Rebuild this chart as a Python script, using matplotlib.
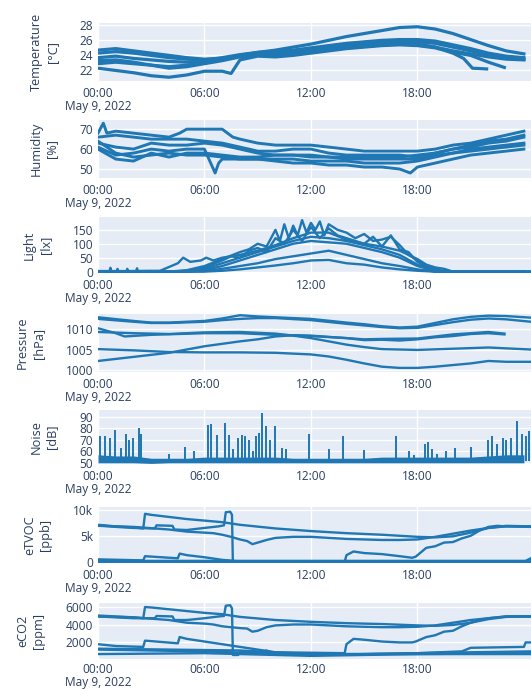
import matplotlib
matplotlib.use("Agg")
import matplotlib.pyplot as plt

plt.rcParams['font.family'] = ['Open Sans', 'DejaVu Sans']

BG = '#E5ECF6'
LINE = '#1f77b4'
TEXT = '#2a3f5f'

# x axis (hours after 00:00, May 9 2022)
HOURS = [0, 1, 2, 3, 4, 5, 6, 7, 8, 9, 10, 11, 12, 13, 14, 15, 16, 17, 18, 19, 20, 21, 22, 23, 24]
x_ticks = [0, 6, 12, 18]
x_labels = ['00:00\nMay 9, 2022', '06:00', '12:00', '18:00']

# ---------------- temperature [°C]
temp_1 = [24.6, 24.8, 24.5, 24.2, 23.9, 23.6, 23.4, 23.5, 23.9, 24.3, 24.6, 25.0, 25.4, 25.9, 26.4, 26.8, 27.2, 27.6, 27.7, 27.4, 26.8, 26.0, 25.2, 24.5, 24.1]
temp_2 = [24.2, 24.4, 24.2, 23.9, 23.6, 23.4, 23.3, 23.6, 24.0, 24.3, 24.4, 24.6, 24.9, 25.2, 25.5, 25.7, 25.9, 26.0, 26.0, 25.8, 25.3, 24.8, 24.2, 23.8, 23.6]
temp_3 = [23.6, 23.8, 23.5, 23.3, 23.1, 23.0, 23.1, 23.4, 23.8, 24.0, 24.1, 24.3, 24.6, 24.9, 25.2, 25.4, 25.6, 25.7, 25.7, 25.5, 25.0, 24.5, 24.0, 23.6, 23.4]
temp_4_t = [0, 1, 2, 3, 4, 5, 6, 7, 8, 9, 10, 11, 12, 13, 14, 15, 16, 17, 18, 19, 20, 20.6, 21.1, 21.9]
temp_4 = [22.8, 23.0, 22.8, 22.6, 22.4, 22.6, 23.0, 23.4, 23.9, 24.0, 23.9, 24.1, 24.4, 24.7, 24.9, 25.1, 25.3, 25.4, 25.4, 25.0, 24.2, 23.5, 22.2, 22.1]
temp_5_t = [0, 1, 2, 3, 4, 5, 6, 7, 7.5, 8, 9, 10, 11, 12, 13, 14, 15, 16, 17, 18, 19, 20, 21, 22, 22.9]
temp_5 = [22.2, 21.9, 21.6, 21.2, 21.0, 21.3, 21.8, 21.8, 21.5, 23.3, 23.8, 23.7, 23.9, 24.2, 24.5, 24.8, 25.0, 25.2, 25.3, 25.2, 24.9, 24.3, 23.9, 23.0, 22.3]
temp_6 = [23.2, 23.3, 23.0, 22.6, 22.2, 22.4, 22.8, 23.2, 23.7, 24.0, 24.0, 24.2, 24.4, 24.6, 24.9, 25.1, 25.3, 25.4, 25.3, 25.0, 24.5, 24.1, 23.7, 23.4, 23.3]

# ---------------- humidity [%]
hum_1_t = [0, 0.3, 0.5, 1, 2, 3, 4, 4.6, 5, 6, 7, 7.6, 8, 9, 10, 11, 12, 13, 14, 15, 16, 17, 18, 19, 20, 21, 22, 23, 24]
hum_1 = [68, 73, 68, 69, 68, 67, 66, 68, 70, 70, 70, 66, 65, 63, 62, 62, 62, 61, 60, 59, 59, 59, 59, 60, 62, 63, 65, 67, 69]
hum_2 = [66, 67, 66, 65, 65, 65, 64, 63, 61, 59, 59, 60, 60, 58, 57, 57, 57, 57, 56, 58, 60, 61, 63, 64, 66]
hum_3 = [63, 61, 60, 63, 62, 62, 63, 62, 60, 58, 57, 57, 56, 56, 55, 55, 55, 55, 55, 57, 58, 60, 61, 62, 63]
hum_4_t = [0, 1, 2, 3, 4, 5, 6, 6.6, 6.8, 7, 8, 9, 10, 11, 12, 13, 14, 15, 16, 17, 18, 19, 20, 21, 22, 23, 24]
hum_4 = [61, 57, 58, 60, 59, 60, 60, 48, 53, 55, 55, 55, 55, 55, 54, 54, 54, 53, 53, 53, 54, 56, 58, 59, 60, 61, 62]
hum_5_t = [0, 1, 2, 3, 4, 5, 6, 7, 8, 9, 10, 11, 12, 13, 14, 15, 16, 17, 17.6, 18, 19, 20, 21, 22, 23, 24]
hum_5 = [64, 58, 56, 57, 58, 57, 57, 56, 55, 55, 54, 53, 53, 52, 52, 51, 51, 50, 48, 51, 53, 55, 57, 58, 59, 60]
hum_6 = [60, 55, 54, 58, 56, 58, 58, 57, 56, 56, 57, 57, 57, 56, 56, 56, 56, 56, 57, 58, 60, 62, 64, 65, 67]

# ---------------- light [lx]
light_1_t = [0, 4, 5, 6, 7, 8, 8.5, 9, 9.5, 10, 10.25, 10.5, 10.75, 11, 11.25, 11.5, 11.75, 12, 12.25, 12.5, 12.75, 13, 13.5, 14, 14.5, 15, 15.5, 16, 16.5, 17, 17.5, 18, 18.5, 19, 24.4]
light_1 = [0, 0, 5, 20, 45, 70, 80, 100, 90, 150, 110, 170, 120, 165, 130, 185, 140, 175, 150, 180, 130, 170, 150, 140, 120, 135, 110, 115, 125, 95, 60, 40, 10, 0, 0]
light_2_t = [0, 4, 5, 6, 7, 7.5, 8, 8.5, 9, 9.5, 10, 10.5, 11, 11.5, 12, 12.5, 13, 13.5, 14, 15, 15.5, 16, 16.5, 17, 17.5, 18, 18.5, 19, 19.5, 24.4]
light_2 = [0, 0, 3, 15, 40, 55, 50, 75, 85, 70, 120, 100, 150, 110, 160, 120, 155, 130, 120, 100, 125, 90, 130, 80, 70, 35, 20, 10, 0, 0]
light_3_t = [0, 3.5, 4.5, 4.8, 5.2, 5.8, 6.1, 6.5, 7, 8, 9, 10, 11, 12, 13, 14, 15, 16, 17, 18, 18.5, 19, 19.5, 20, 24.4]
light_3 = [0, 3, 30, 50, 35, 40, 50, 40, 50, 60, 75, 95, 120, 140, 140, 115, 100, 90, 75, 45, 25, 15, 10, 0, 0]
light_4 = [0, 0, 0, 0, 0, 2, 10, 30, 50, 70, 90, 110, 125, 120, 110, 95, 80, 60, 25, 5, 0, 0, 0, 0, 0]
light_5 = [0, 0, 0, 0, 0, 0, 5, 20, 40, 60, 80, 100, 110, 105, 100, 85, 70, 50, 20, 3, 0, 0, 0, 0, 0]
light_6 = [0, 0, 0, 0, 0, 0, 2, 10, 20, 30, 45, 55, 65, 75, 60, 45, 30, 20, 8, 0, 0, 0, 0, 0, 0]
light_7 = [0, 0, 0, 0, 0, 0, 0, 3, 8, 15, 22, 30, 40, 42, 30, 25, 15, 8, 3, 0, 0, 0, 0, 0, 0]
light_night_t = [0, 0.65, 0.7, 0.75, 1.05, 1.1, 1.15, 1.6, 1.65, 1.7, 2.15, 2.2, 2.25, 3.0]
light_night = [2, 2, 14, 2, 2, 10, 2, 2, 10, 2, 2, 12, 2, 2]

# ---------------- pressure [hPa]
pres_12_t = [0, 2, 3, 4, 6, 7, 8, 9, 10, 12, 14, 15, 16, 17, 18, 19, 20, 21, 22, 23, 24.4]
pres_1 = [1012.9, 1012.0, 1011.6, 1011.6, 1012.0, 1012.6, 1013.4, 1013.1, 1012.9, 1012.5, 1011.6, 1011.2, 1010.7, 1010.4, 1010.6, 1011.5, 1012.4, 1013.0, 1013.3, 1013.2, 1012.8]
pres_2 = [1012.5, 1011.8, 1011.5, 1011.5, 1011.8, 1012.2, 1012.5, 1012.7, 1012.7, 1012.2, 1011.3, 1010.9, 1010.5, 1010.2, 1010.3, 1011.0, 1011.7, 1012.3, 1012.6, 1012.4, 1011.8]
pres_3_t = [0, 1, 1.5, 3, 6, 8, 10, 12, 14, 15, 16, 18, 19, 20, 21, 22, 22.9]
pres_3 = [1010.2, 1009.0, 1008.2, 1008.6, 1009.0, 1009.0, 1008.6, 1008.4, 1007.8, 1007.5, 1007.6, 1007.7, 1008.2, 1008.7, 1009.0, 1009.3, 1008.9]
pres_4_t = [0, 2, 4, 5, 6, 7, 8, 9, 10, 11, 12, 14, 15, 16, 17, 18, 19, 20, 21, 22, 22.9]
pres_4 = [1002.2, 1003.2, 1004.2, 1005.0, 1005.8, 1006.4, 1007.0, 1007.5, 1008.2, 1008.5, 1008.3, 1007.8, 1007.3, 1007.4, 1007.2, 1007.5, 1008.0, 1008.3, 1008.8, 1009.0, 1008.7]
pres_5_t = [0, 2, 4, 6, 8, 10, 11, 12, 13, 14, 15, 16, 18, 20, 22, 24.4]
pres_5 = [1009.3, 1009.0, 1008.8, 1009.2, 1009.3, 1008.9, 1008.4, 1007.8, 1007.0, 1006.2, 1005.6, 1005.1, 1004.9, 1005.2, 1005.5, 1005.0]
pres_6_t = [0, 2, 4, 6, 8, 10, 12, 13, 14, 15, 16, 17, 18, 19, 20, 21, 22, 23, 24.4]
pres_6 = [1005.1, 1004.8, 1004.4, 1004.3, 1004.3, 1004.2, 1003.8, 1003.3, 1002.5, 1001.6, 1000.8, 1000.5, 1000.5, 1000.8, 1001.2, 1001.6, 1002.2, 1002.0, 1002.0]

# ---------------- noise [dB]
noise_low = [50, 50, 50, 49.5, 50, 50, 50, 50, 50, 50, 50, 50, 50, 50, 50, 50, 50, 50, 50, 50, 50, 50, 50, 50, 50]
noise_high = [57, 56, 56, 54, 54, 54, 55, 55, 55, 55, 55, 54, 54, 54, 54, 54, 55, 55, 55, 55, 55, 55, 56, 57, 57]
noise_spike_t = [0.1, 0.4, 0.65, 0.95, 1.3, 1.6, 1.75, 2.0, 2.3, 2.45, 4.0, 4.9, 5.4,
                 6.2, 6.35, 6.7, 7.15, 7.4, 7.6, 7.9, 8.1, 8.3, 8.5, 8.75, 8.9, 9.1, 9.25, 9.45, 9.7, 10.0,
                 10.35, 10.6, 11.9, 13.0, 13.8, 15.0, 16.8, 17.5, 17.8, 18.4, 18.6, 18.8, 19.1, 19.6, 20.1,
                 21.0, 22.0, 22.2, 22.5, 22.8, 23.0, 23.3, 23.6, 23.9, 24.1, 24.3]
noise_spike_v = [73, 73, 72, 79, 63, 75, 70, 72, 80, 75, 58, 64, 60,
                 83, 84, 74, 85, 74, 62, 72, 74, 73, 70, 60, 73, 76, 93, 82, 70, 82,
                 63, 62, 75, 62, 73, 61, 73, 60, 57, 66, 68, 62, 58, 60, 63,
                 64, 70, 73, 66, 72, 70, 72, 86, 75, 73, 78]

# ---------------- eTVOC [ppb]
etvoc_1_t = [0, 1, 2, 2.55, 2.65, 3, 4, 5, 6, 7, 8, 10, 12, 14, 16, 18, 19, 20, 21, 22, 23, 24.4]
etvoc_1 = [7100, 6800, 6600, 6400, 9200, 9000, 8600, 8200, 7900, 7600, 7100, 6400, 5900, 5500, 5200, 4800, 4700, 4900, 5600, 6500, 6900, 6800]
etvoc_2_t = [0, 1, 2, 3.2, 3.3, 4.2, 4.3, 5, 6, 6.8, 7.1, 7.2, 7.45, 7.55, 7.6, 24.4]
etvoc_2 = [7000, 6700, 6500, 6400, 7000, 6900, 6200, 6100, 6500, 6800, 7000, 9500, 9600, 9000, 0, 0]
etvoc_3_t = [0, 2, 4, 5, 6, 6.5, 7, 7.5, 8, 8.4, 8.7, 9, 9.5, 10, 11, 12, 13, 14, 15, 16, 17, 18, 19, 20, 21, 22, 23, 24.4]
etvoc_3 = [6900, 6700, 6200, 5800, 5600, 5500, 5200, 4800, 4300, 4000, 3400, 3700, 4200, 4600, 4800, 4800, 4600, 4400, 4300, 4200, 4200, 4300, 4800, 5400, 6000, 6500, 6800, 6800]
etvoc_4_t = [0, 2.55, 2.65, 4.5, 4.6, 5, 6, 7, 8, 24.4]
etvoc_4 = [500, 300, 1100, 700, 1600, 1300, 900, 400, 100, 0]
etvoc_5_t = [0, 13.9, 14.0, 14.4, 15, 16, 17, 17.7, 17.9, 18.5, 19, 19.5, 20, 20.5, 21, 21.5, 22, 22.5, 23, 24.4]
etvoc_5 = [0, 0, 1300, 2000, 1700, 1500, 1100, 800, 1000, 2700, 3000, 3700, 3800, 4500, 5000, 6000, 6700, 6900, 6800, 6700]
etvoc_6_t = [0, 24.1, 24.4]
etvoc_6 = [100, 100, 600]

# ---------------- eCO2 [ppm]
eco2_1 = [5000, 4900, 4800, 4700, 5950, 5900, 5700, 5500, 5300, 5150, 4850, 4500, 4300, 4150, 4050, 3900, 3850, 3950, 4200, 4600, 4850, 4900]
eco2_2_t = [0, 1, 2, 3.2, 3.3, 4.2, 4.3, 5, 6, 6.8, 7.1, 7.2, 7.45, 7.55, 7.6, 7.9, 8.0, 9, 12, 24.4]
eco2_2 = [4900, 4800, 4700, 4700, 4950, 4900, 4500, 4500, 4700, 4900, 4950, 6100, 6150, 5800, 600, 600, 900, 800, 700, 700]
eco2_3 = [4900, 4800, 4500, 4200, 4100, 4000, 3800, 3700, 3600, 3550, 3200, 3300, 3700, 3900, 4000, 4000, 3900, 3800, 3750, 3700, 3700, 3750, 3900, 4200, 4500, 4700, 4900, 4900]
eco2_4_t = [0, 1, 2.55, 2.65, 4.5, 4.6, 5, 6, 7, 8, 9, 10, 12, 15, 18, 21, 24.4]
eco2_4 = [1800, 1600, 1500, 2200, 1900, 2600, 2400, 2100, 1800, 1500, 1200, 900, 700, 700, 800, 900, 1000]
eco2_5_t = [0, 4, 8, 10, 13.9, 14.0, 14.4, 15, 16, 17, 17.7, 17.9, 18.5, 19, 19.5, 20, 20.5, 21, 21.5, 22, 22.5, 23, 24.4]
eco2_5 = [1300, 1200, 1100, 900, 800, 1800, 2400, 2300, 2100, 2000, 2000, 2100, 2600, 2800, 3200, 3300, 3800, 4200, 4500, 4700, 4800, 4900, 4900]
eco2_6_t = [0, 3, 6, 9, 9.5, 10, 12, 15, 18, 20.5, 21, 24, 24.1, 24.4]
eco2_6 = [1200, 1100, 1000, 800, 1100, 700, 600, 700, 800, 1000, 1400, 1500, 2000, 2000]
eco2_7_t = [0, 6, 8, 12, 18, 24.4]
eco2_7 = [700, 800, 700, 500, 700, 800]


fig = plt.figure(figsize=(5.31, 6.9), dpi=100)

# panel boxes in pixels: (top, bottom)
boxes = [(23, 81), (120, 178), (217, 273), (314, 372), (410, 464), (507, 563), (603, 659)]
axes = []
for top, bot in boxes:
    ax = fig.add_axes([98 / 531, (690 - bot) / 690, 1 - 98 / 531, (bot - top) / 690])
    axes.append(ax)


def style(ax, ylim, yticks, ylabels, title):
    ax.set_facecolor(BG)
    for s in ax.spines.values():
        s.set_visible(False)
    ax.set_xlim(0, 24.4)
    ax.set_ylim(ylim)
    ax.set_xticks(x_ticks)
    ax.set_xticklabels(x_labels)
    ax.set_yticks(yticks)
    ax.set_yticklabels(ylabels)
    ax.grid(True, color='white', linewidth=1.0)
    ax.set_axisbelow(True)
    ax.tick_params(axis='y', length=0, labelsize=8.6, colors=TEXT, pad=3.5)
    ax.tick_params(axis='x', length=0, labelsize=8.6, colors=TEXT, pad=4.5)
    for lab in ax.get_xticklabels():
        lab.set_linespacing(1.02)
    ax.set_ylabel(title, fontsize=9.2, color=TEXT, labelpad=15, linespacing=1.3)


lw = 1.7

ax = axes[0]
ax.plot(HOURS, temp_1, color=LINE, lw=2.3)
ax.plot(HOURS, temp_2, color=LINE, lw=2.3)
ax.plot(HOURS, temp_3, color=LINE, lw=2.3)
ax.plot(temp_4_t, temp_4, color=LINE, lw=2.3)
ax.plot(temp_5_t, temp_5, color=LINE, lw=2.3)
ax.plot(HOURS, temp_6, color=LINE, lw=2.3)
style(ax, (20.5, 28.2), [22, 24, 26, 28], ['22', '24', '26', '28'], 'Temperature\n[°C]')

ax = axes[1]
ax.plot(hum_1_t, hum_1, color=LINE, lw=2.1)
ax.plot(HOURS, hum_2, color=LINE, lw=2.1)
ax.plot(HOURS, hum_3, color=LINE, lw=2.1)
ax.plot(hum_4_t, hum_4, color=LINE, lw=2.1)
ax.plot(hum_5_t, hum_5, color=LINE, lw=2.1)
ax.plot(HOURS, hum_6, color=LINE, lw=2.1)
style(ax, (45.5, 74.6), [50, 60, 70], ['50', '60', '70'], 'Humidity\n[%]')

ax = axes[2]
ax.plot(light_1_t, light_1, color=LINE, lw=lw)
ax.plot(light_2_t, light_2, color=LINE, lw=lw)
ax.plot(light_3_t, light_3, color=LINE, lw=lw)
ax.plot(HOURS, light_4, color=LINE, lw=lw)
ax.plot(HOURS, light_5, color=LINE, lw=lw)
ax.plot(HOURS, light_6, color=LINE, lw=lw)
ax.plot(HOURS, light_7, color=LINE, lw=lw)
ax.plot(light_night_t, light_night, color=LINE, lw=lw)
style(ax, (-5, 196), [0, 50, 100, 150], ['0', '50', '100', '150'], 'Light\n[lx]')

ax = axes[3]
ax.plot(pres_12_t, pres_1, color=LINE, lw=lw)
ax.plot(pres_12_t, pres_2, color=LINE, lw=lw)
ax.plot(pres_3_t, pres_3, color=LINE, lw=lw)
ax.plot(pres_4_t, pres_4, color=LINE, lw=lw)
ax.plot(pres_5_t, pres_5, color=LINE, lw=lw)
ax.plot(pres_6_t, pres_6, color=LINE, lw=lw)
style(ax, (999.5, 1013.7), [1000, 1005, 1010], ['1000', '1005', '1010'], 'Pressure\n[hPa]')

ax = axes[4]
ax.fill_between(HOURS, noise_low, noise_high, color=LINE, lw=0)
ax.vlines(noise_spike_t, 52, noise_spike_v, color=LINE, lw=1.4)
style(ax, (49, 96), [50, 60, 70, 80, 90], ['50', '60', '70', '80', '90'], 'Noise\n[dB]')

ax = axes[5]
ax.plot(etvoc_1_t, etvoc_1, color=LINE, lw=lw)
ax.plot(etvoc_2_t, etvoc_2, color=LINE, lw=lw)
ax.plot(etvoc_3_t, etvoc_3, color=LINE, lw=lw)
ax.plot(etvoc_4_t, etvoc_4, color=LINE, lw=lw)
ax.plot(etvoc_5_t, etvoc_5, color=LINE, lw=lw)
ax.plot(etvoc_6_t, etvoc_6, color=LINE, lw=2.5)
style(ax, (-200, 10500), [0, 5000, 10000], ['0', '5k', '10k'], 'eTVOC\n[ppb]')

ax = axes[6]
ax.plot(etvoc_1_t, eco2_1, color=LINE, lw=lw)
ax.plot(eco2_2_t, eco2_2, color=LINE, lw=lw)
ax.plot(etvoc_3_t, eco2_3, color=LINE, lw=lw)
ax.plot(eco2_4_t, eco2_4, color=LINE, lw=lw)
ax.plot(eco2_5_t, eco2_5, color=LINE, lw=lw)
ax.plot(eco2_6_t, eco2_6, color=LINE, lw=lw)
ax.plot(eco2_7_t, eco2_7, color=LINE, lw=lw)
style(ax, (150, 6400), [2000, 4000, 6000], ['2000', '4000', '6000'], 'eCO2\n[ppm]')
axes[6].tick_params(axis='x', pad=3)

fig.savefig('out.png', dpi=100)
